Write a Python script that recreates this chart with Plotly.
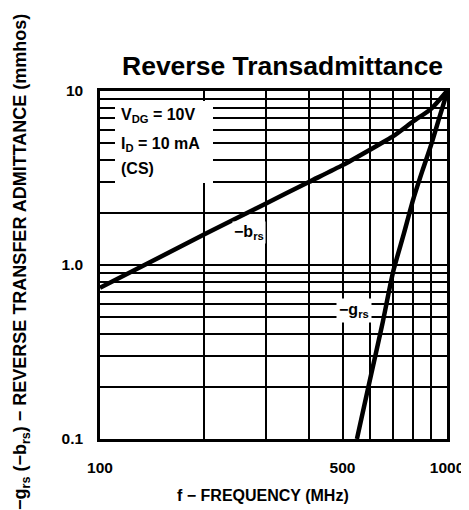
import plotly.graph_objects as go

# ---- data ----
b_freq = [100, 200, 300, 400, 500, 600, 700, 800, 900, 1000]
b_vals = [0.74, 1.5, 2.25, 3.0, 3.75, 4.6, 5.5, 6.7, 7.9, 10.0]

g_freq = [550, 600, 650, 700, 750, 800, 850, 900, 950, 1000]
g_vals = [0.1, 0.22, 0.45, 0.92, 1.5, 2.4, 3.5, 4.9, 7.0, 9.8]

x_grid = [100, 200, 300, 400, 500, 600, 700, 800, 900, 1000]
x_text = ["100", "", "", "", "500", "", "", "", "", "1000"]
y_grid = [0.1, 0.2, 0.3, 0.4, 0.5, 0.6, 0.7, 0.8, 0.9, 1, 2, 3, 4, 5, 6, 7, 8, 9, 10]
y_text = ["0.1"] + [""] * 8 + ["1.0"] + [""] * 8 + ["10"]

SANS = "Liberation Sans, Arial, sans-serif"

fig = go.Figure()
fig.add_trace(go.Scatter(x=b_freq, y=b_vals, mode="lines",
                         line=dict(color="black", width=4.5, shape="spline", smoothing=0.6),
                         showlegend=False, hoverinfo="skip"))
fig.add_trace(go.Scatter(x=g_freq, y=g_vals, mode="lines",
                         line=dict(color="black", width=4.5, shape="spline", smoothing=0.6),
                         showlegend=False, hoverinfo="skip"))

# page body has an 8px margin; size the figure so it fills the 469x510 window
OFF = 8
W, H = 469 - OFF, 510 - OFF
PL, PR, PT, PB = 100, 447, 91, 439          # plot box in window pixels
L, R, T, B = PL - OFF, W - (PR - OFF), PT - OFF, H - (PB - OFF)
pw, ph = PR - PL, PB - PT

def px(x):
    return (x - PL) / pw

def py(y):
    return (PB - y) / ph

fig.update_layout(
    width=W, height=H,
    margin=dict(l=L, r=R, t=T, b=B, autoexpand=False),
    paper_bgcolor="white", plot_bgcolor="white",
    showlegend=False,
    xaxis=dict(type="log", range=[2, 3], tickvals=x_grid, ticktext=x_text,
               showgrid=True, gridcolor="black", gridwidth=1.5, automargin=False,
               showline=True, linecolor="black", linewidth=2.5, mirror=True,
               ticks="", ticklabelstandoff=13, zeroline=False,
               tickfont=dict(family=SANS, size=15.5, color="black", weight="bold")),
    yaxis=dict(type="log", range=[-1, 1], tickvals=y_grid, ticktext=y_text,
               showgrid=True, gridcolor="black", gridwidth=1.5, automargin=False,
               showline=True, linecolor="black", linewidth=2.5, mirror=True,
               ticks="", ticklabelstandoff=11, zeroline=False,
               tickfont=dict(family=SANS, size=15.5, color="black", weight="bold")),
)

# white panel behind the conditions text
fig.add_shape(type="rect", xref="paper", yref="paper",
              x0=px(115), x1=px(213), y0=py(183), y1=py(101),
              fillcolor="white", line=dict(width=0), layer="above")

lab = dict(family=SANS, size=16, color="black", weight="bold")
for txt, yy in [("V<sub>DG</sub> = 10V", 115), ("I<sub>D</sub> = 10 mA", 144), ("(CS)", 168)]:
    fig.add_annotation(text=txt, xref="paper", yref="paper", x=px(119), y=py(yy),
                       xanchor="left", yanchor="middle", showarrow=False, font=lab)

fig.add_annotation(text="−b<sub>rs</sub>", xref="paper", yref="paper", x=px(249), y=py(232),
                   xanchor="center", yanchor="middle", showarrow=False, font=lab,
                   bgcolor="white", borderpad=1)
fig.add_annotation(text="−g<sub>rs</sub>", xref="paper", yref="paper", x=px(354), y=py(310),
                   xanchor="center", yanchor="middle", showarrow=False, font=lab,
                   bgcolor="white", borderpad=2)

# title
fig.add_annotation(text="<b>Reverse Transadmittance</b>", xref="paper", yref="paper",
                   x=px(282), y=py(66), xanchor="center", yanchor="middle", showarrow=False,
                   font=dict(family=SANS, size=26.5, color="black"))

# axis titles
fig.add_annotation(text="f − FREQUENCY (MHz)", xref="paper", yref="paper",
                   x=px(263), y=py(495), xanchor="center", yanchor="middle", showarrow=False,
                   font=dict(family=SANS, size=16, color="black", weight="bold"))
fig.add_annotation(text="−g<sub>rs</sub> (−b<sub>rs</sub>) − REVERSE TRANSFER ADMITTANCE (mmhos)",
                   xref="paper", yref="paper", x=px(21), y=py(262), textangle=-90,
                   xanchor="center", yanchor="middle", showarrow=False,
                   font=dict(family=SANS, size=18, color="black", weight="bold"))

fig.write_html("out.html")
